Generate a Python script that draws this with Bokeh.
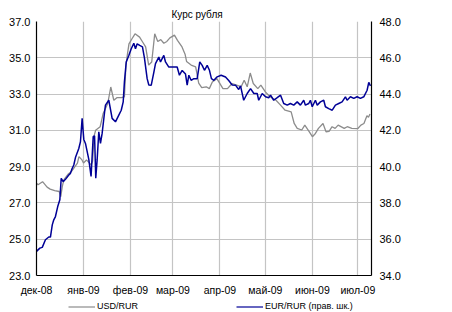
import pandas as pd
from bokeh.plotting import figure
from bokeh.layouts import column
from bokeh.models import (LinearAxis, Range1d, FixedTicker, Legend, LegendItem,
                          NumeralTickFormatter)
from bokeh.embed import file_html
from bokeh.resources import INLINE

title_text = "Курс рубля"
start_date = "2008-12-01"
month_starts = ["2008-12-01", "2009-01-01", "2009-02-01", "2009-03-01",
                "2009-04-01", "2009-05-01", "2009-06-01", "2009-07-01"]
month_labels = ["дек-08", "янв-09", "фев-09", "мар-09", "апр-09", "май-09", "июн-09", "июл-09"]
left_ticks = [23, 25, 27, 29, 31, 33, 35, 37]
right_ticks = [34, 36, 38, 40, 42, 44, 46, 48]
usd_label = "USD/RUR"
eur_label = "EUR/RUR (прав. шк.)"

# days since 1 Dec 2008
usd_day = [0, 1, 4, 7, 9, 12, 15, 16, 17, 18, 21, 23, 27, 28, 30, 31, 33, 36, 37, 38,
           39, 42, 44, 47, 49, 51, 53, 56, 58, 59, 60, 61, 63, 65, 68, 70, 72, 74, 76, 78,
           80, 82, 84, 86, 88, 91, 93, 96, 98, 99, 102, 105, 107, 109, 112, 114, 116, 119, 123, 126,
           129, 132, 135, 137, 139, 141, 143, 146, 148, 151, 154, 158, 161, 164, 168, 170, 172, 175, 177, 180,
           182, 184, 186, 189, 191, 193, 195, 197, 199, 203, 205, 208, 212, 214, 216, 218, 219, 220]
usd_rate = [28.09, 28.0, 28.17, 27.87, 27.76, 27.68, 27.63, 27.35, 27.9, 28.27,
            28.6, 28.73, 29.19, 29.55, 29.37, 29.2, 29.37, 29.1, 29.3, 30.7,
            31.0, 31.2, 31.93, 32.48, 33.39, 32.66, 32.8, 32.8, 32.85, 34.6,
            35.2, 35.77, 36.05, 36.32, 36.14, 35.87, 35.6, 34.6, 34.77, 36.32,
            35.9, 36.0, 35.8, 35.9, 36.1, 36.25, 35.96, 35.6, 35.2, 34.8,
            34.6, 34.5, 33.6, 33.35, 33.4, 33.3, 33.67, 33.85, 33.3, 33.3,
            33.58, 33.5, 33.4, 33.76, 33.4, 34.16, 33.58, 33.3, 33.49, 33.12,
            32.85, 32.66, 32.39, 32.11, 32.02, 31.38, 31.11, 31.02, 31.29, 30.92,
            30.65, 30.83, 31.11, 31.38, 30.92, 30.95, 31.2, 31.11, 31.29, 31.11,
            31.2, 31.11, 31.1, 31.29, 31.38, 31.8, 31.72, 31.9]

eur_day = [0, 2.2, 3.8, 5.9, 8.1, 9.2, 10.4, 11.4, 12.5, 14.0,
           15.4, 16.3, 17.6, 19.1, 21.3, 22.4, 23.5, 24.6, 25.7, 27.9,
           29.0, 30.1, 31.2, 32.3, 34.5, 36.0, 37.4, 38.3, 39.1, 40.0,
           41.1, 42.2, 43.3, 44.9, 45.5, 47.7, 49.9, 52.1, 54.3, 55.9,
           57.2, 58.0, 59.2, 60.9, 62.5, 64.2, 65.3, 66.4, 68.1, 69.9,
           71.2, 73.0, 74.1, 75.7, 77.4, 78.5, 80.7, 81.8, 84.0, 85.1,
           87.3, 90.6, 92.8, 94.3, 96.1, 98.3, 99.4, 100.5, 102.0, 103.8,
           106.0, 107.7, 109.3, 110.8, 112.6, 114.1, 115.4, 117.0, 119.2, 121.8,
           124.7, 126.8, 129.1, 131.3, 133.4, 134.6, 136.7, 139.0, 141.2, 143.4,
           145.6, 146.6, 148.9, 151.1, 153.2, 154.4, 156.5, 158.8, 161.0, 163.1,
           165.4, 167.5, 169.7, 172.0, 174.1, 176.3, 177.4, 179.6, 180.7, 181.9,
           184.0, 185.2, 187.3, 189.5, 190.6, 192.8, 195.1, 197.2, 199.4, 201.6,
           203.8, 204.9, 207.1, 209.3, 211.5, 213.7, 215.9, 218.1, 219.2, 220.3]
eur_rate = [35.33, 35.51, 35.55, 35.97, 36.12, 36.12, 36.79, 37.07, 37.25, 37.8,
            38.17, 39.36, 39.17, 39.3, 39.54, 39.63, 39.9, 40.09, 40.5, 41.0,
            41.37, 42.66, 41.5, 41.28, 40.4, 39.46, 41.65, 41.7, 39.36, 40.37,
            41.92, 41.28, 41.83, 43.0, 43.39, 43.66, 42.66, 42.47, 42.84, 43.11,
            43.57, 44.67, 45.77, 46.13, 46.5, 46.8, 46.5, 46.77, 46.68, 46.6,
            46.0, 44.85, 44.5, 44.49, 45.2, 45.68, 46.04, 45.77, 46.13, 45.77,
            45.49, 45.49, 45.49, 45.04, 45.3, 45.1, 44.49, 45.04, 44.76, 44.85,
            44.85, 45.77, 45.58, 45.31, 45.58, 45.31, 44.85, 44.76, 44.95, 45.04,
            44.94, 44.75, 44.5, 44.49, 44.25, 44.45, 43.66, 44.03, 44.3, 44.03,
            44.03, 43.66, 44.03, 43.85, 43.8, 43.94, 43.66, 43.8, 43.94, 43.48,
            43.39, 43.48, 43.39, 43.57, 43.39, 43.66, 43.39, 43.48, 43.66, 43.3,
            43.66, 43.39, 43.57, 43.66, 43.3, 43.2, 43.11, 43.39, 43.48, 43.57,
            43.85, 43.66, 43.85, 43.76, 43.85, 43.76, 43.85, 44.21, 44.65, 44.45]

FONT = "Liberation Sans"
USD_COLOR = "#8c8c8c"
EUR_COLOR = "#000096"
tick_pos = [int(d) for d in (pd.to_datetime(month_starts) - pd.Timestamp(start_date)).days]

p = figure(width=452, height=298, output_backend="svg", toolbar_location=None,
           x_range=Range1d(0, 221), y_range=Range1d(23, 37),
           min_border_left=36, min_border_right=81, min_border_top=21, min_border_bottom=22,
           title=title_text)
p.outline_line_color = None
p.background_fill_color = "white"
p.border_fill_color = "white"

p.title.text_font = FONT
p.title.text_font_size = "10px"
p.title.text_font_style = "normal"
p.title.text_color = "black"
p.title.align = "left"
p.title.offset = 135
p.title.standoff = 4

p.extra_y_ranges = {"eur": Range1d(34, 48)}

xa = p.xaxis[0]
xa.ticker = FixedTicker(ticks=tick_pos)
xa.major_label_overrides = {t: l for t, l in zip(tick_pos, month_labels)}
ya = p.yaxis[0]
ya.ticker = FixedTicker(ticks=left_ticks)
ya.formatter = NumeralTickFormatter(format="0.0")
ya.major_label_standoff = 6

ra = LinearAxis(y_range_name="eur", ticker=FixedTicker(ticks=right_ticks),
                formatter=NumeralTickFormatter(format="0.0"))
ra.major_label_standoff = 8
p.add_layout(ra, "right")

for ax, fs in ((xa, "10.5px"), (ya, "11px"), (ra, "11px")):
    ax.axis_line_color = "black"
    ax.axis_line_width = 1.2
    ax.major_tick_line_color = None
    ax.minor_tick_line_color = None
    ax.major_tick_out = 0
    ax.major_tick_in = 0
    ax.major_label_text_font = FONT
    ax.major_label_text_font_size = fs
    ax.major_label_text_color = "black"
xa.major_label_standoff = 8

p.xgrid.ticker = FixedTicker(ticks=tick_pos)
p.ygrid.ticker = FixedTicker(ticks=left_ticks)
for g in (p.xgrid[0], p.ygrid[0]):
    g.grid_line_color = "#c4c4c4"
    g.grid_line_width = 1.2

p.line(usd_day, usd_rate, line_color=USD_COLOR, line_width=1.3)
p.line(eur_day, eur_rate, y_range_name="eur", line_color=EUR_COLOR, line_width=1.5)

# legend strip below the chart (series drawn out of view; only the keys show)
lg = figure(width=452, height=14, output_backend="svg", toolbar_location=None,
            x_range=Range1d(0, 221), y_range=Range1d(0, 1),
            x_axis_location=None, y_axis_location=None,
            min_border_left=0, min_border_right=0, min_border_top=0, min_border_bottom=0)
lg.grid.visible = False
lg.outline_line_color = None
lg.border_fill_color = "white"
lg.background_fill_color = "white"
lk_usd = lg.line(usd_day, usd_rate, line_color=USD_COLOR, line_width=1.2)
lk_eur = lg.line(eur_day, eur_rate, line_color=EUR_COLOR, line_width=1.2)
legend = Legend(items=[LegendItem(label=usd_label, renderers=[lk_usd]),
                       LegendItem(label=eur_label, renderers=[lk_eur])],
                orientation="horizontal", location=(32, 1), spacing=98,
                glyph_width=27, glyph_height=9, label_height=9, label_standoff=2,
                padding=0, margin=0, border_line_color=None, background_fill_alpha=0,
                label_text_font=FONT, label_text_font_size="9px",
                label_text_color="black")
lg.add_layout(legend)

layout = column(p, lg, spacing=0)
open("out.html", "w").write(file_html(layout, INLINE))
